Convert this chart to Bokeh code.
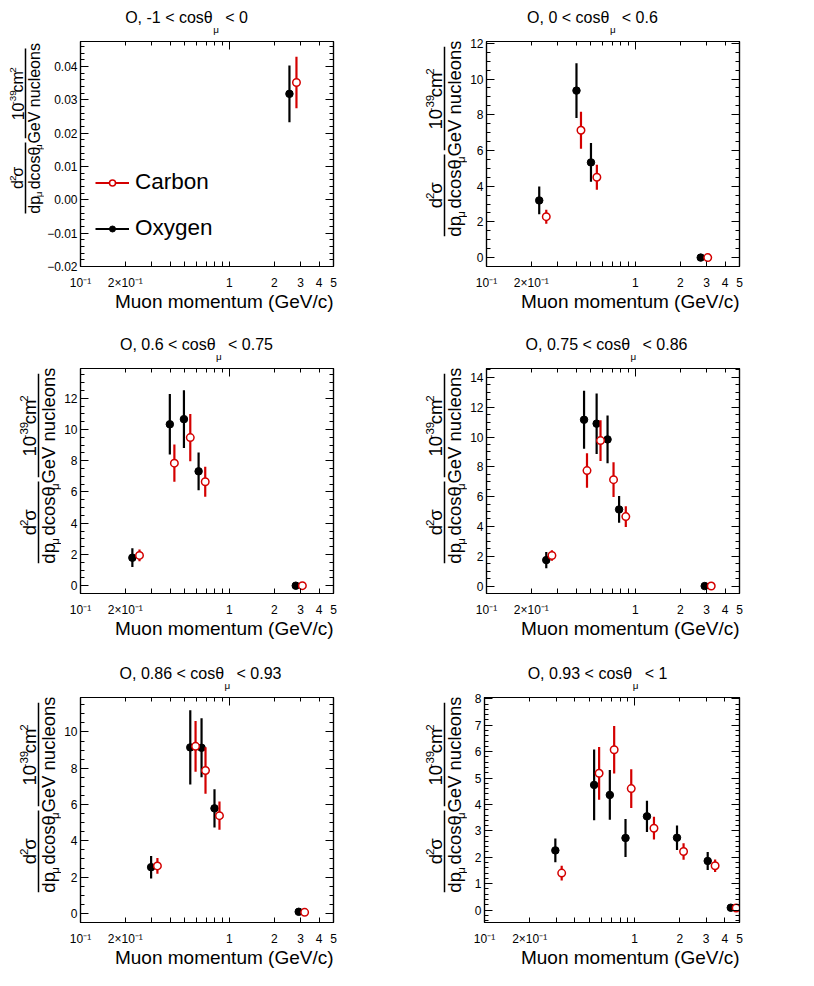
import math
from bokeh.plotting import figure
from bokeh.layouts import row, column
from bokeh.models import (Range1d, FixedTicker, SingleIntervalTicker, CustomJSTickFormatter,
                          LogAxis, LinearAxis, Legend, LegendItem, ColumnDataSource)
from bokeh.core.properties import value
from bokeh.embed import file_html
from bokeh.resources import INLINE

RED = "#d40000"
FONT = "Liberation Sans"
NB = "\u00a0"
EN = "\u2002"

# ---------------- data ----------------
X_TICKS = [0.1, 0.2, 1, 2, 3, 4, 5]
X_TICK_LABELS = ["10\u207b\u00b9", "2\u00d710\u207b\u00b9", "1", "2", "3", "4", "5"]
X_MINOR = [0.3, 0.4, 0.5, 0.6, 0.7, 0.8, 0.9]
X_TOP_MAJOR = [0.1, 1]
X_TOP_MINOR = [0.2, 0.3, 0.4, 0.5, 0.6, 0.7, 0.8, 0.9, 2, 3, 4, 5]

COS_LOW = ["-1", "0", "0.6", "0.75", "0.86", "0.93"]
COS_HIGH = ["0", "0.6", "0.75", "0.86", "0.93", "1"]

Y_MIN = [-0.02, -0.5, -0.5, -0.5, -0.5, -0.47]
Y_MAX = [0.0475, 12.1, 13.9, 14.6, 11.9, 8.05]
Y_STEP = [0.01, 2, 2, 2, 2, 1]
Y_NMINOR = [5, 4, 4, 4, 4, 5]
Y_DIGITS = [2, 0, 0, 0, 0, 0]

# panel 1: -1 < cos < 0
oxy_p_1 = [2.53]
oxy_v_1 = [0.0318]
oxy_e_1 = [0.0085]
car_p_1 = [2.82]
car_v_1 = [0.0352]
car_e_1 = [0.0077]

# panel 2: 0 < cos < 0.6
oxy_p_2 = [0.226, 0.402, 0.503, 2.745]
oxy_v_2 = [3.20, 9.35, 5.33, 0.0]
oxy_e_2 = [0.78, 1.53, 1.08, 0.02]
car_p_2 = [0.252, 0.431, 0.551, 3.06]
car_v_2 = [2.29, 7.13, 4.50, 0.0]
car_e_2 = [0.39, 1.03, 0.70, 0.02]

# panel 3: 0.6 < cos < 0.75
oxy_p_3 = [0.223, 0.398, 0.495, 0.621, 2.79]
oxy_v_3 = [1.79, 10.33, 10.66, 7.32, 0.0]
oxy_e_3 = [0.60, 1.94, 1.85, 1.21, 0.02]
car_p_3 = [0.249, 0.427, 0.546, 0.688, 3.09]
car_v_3 = [1.94, 7.84, 9.48, 6.65, 0.0]
car_e_3 = [0.38, 1.19, 1.51, 0.96, 0.02]

# panel 4: 0.75 < cos < 0.86
oxy_p_4 = [0.252, 0.452, 0.549, 0.650, 0.777, 2.92]
oxy_v_4 = [1.74, 11.16, 10.90, 9.84, 5.14, 0.0]
oxy_e_4 = [0.55, 1.94, 2.03, 1.60, 0.90, 0.02]
car_p_4 = [0.275, 0.473, 0.583, 0.713, 0.862, 3.23]
car_v_4 = [2.05, 7.75, 9.76, 7.14, 4.66, 0.0]
car_e_4 = [0.35, 1.16, 1.37, 1.16, 0.70, 0.02]

# panel 5: 0.86 < cos < 0.93
oxy_p_5 = [0.298, 0.546, 0.650, 0.794, 2.92]
oxy_v_5 = [2.55, 9.15, 9.13, 5.79, 0.09]
oxy_e_5 = [0.62, 2.05, 1.62, 1.05, 0.03]
car_p_5 = [0.3285, 0.5925, 0.691, 0.8575, 3.20]
car_v_5 = [2.62, 9.21, 7.88, 5.39, 0.06]
car_e_5 = [0.44, 1.40, 1.28, 0.78, 0.02]

# panel 6: 0.93 < cos < 1
oxy_p_6 = [0.2965, 0.5375, 0.684, 0.870, 1.209, 1.917, 3.07, 4.375]
oxy_v_6 = [2.26, 4.74, 4.36, 2.73, 3.55, 2.74, 1.86, 0.09]
oxy_e_6 = [0.45, 1.34, 0.94, 0.72, 0.59, 0.46, 0.34, 0.03]
car_p_6 = [0.3268, 0.5803, 0.731, 0.950, 1.346, 2.12, 3.44, 4.75]
car_v_6 = [1.40, 5.18, 6.07, 4.60, 3.10, 2.22, 1.68, 0.08]
car_e_6 = [0.28, 1.00, 0.90, 0.73, 0.43, 0.31, 0.24, 0.02]

OXY = [(oxy_p_1, oxy_v_1, oxy_e_1), (oxy_p_2, oxy_v_2, oxy_e_2), (oxy_p_3, oxy_v_3, oxy_e_3),
       (oxy_p_4, oxy_v_4, oxy_e_4), (oxy_p_5, oxy_v_5, oxy_e_5), (oxy_p_6, oxy_v_6, oxy_e_6)]
CAR = [(car_p_1, car_v_1, car_e_1), (car_p_2, car_v_2, car_e_2), (car_p_3, car_v_3, car_e_3),
       (car_p_4, car_v_4, car_e_4), (car_p_5, car_v_5, car_e_5), (car_p_6, car_v_6, car_e_6)]

# ---------------- layout constants ----------------
CELL_W = 406
FRAME_L = 78          # frame left inside a cell
FW, FH = 255, 225
MAIN_TOP, MAIN_BOT = 6, 26
TITLE_H = 35
CELL_H = [327, 329, 320]
TITLE_CX = [108, 108, 118, 122, 122, 113]
MID = 0.3465          # distance from the text box middle to the alphabetic baseline (em)

# approximate Helvetica/Liberation Sans advance widths (1/1000 em)
WID = {" ": 278, NB: 278, EN: 500, ",": 278, "-": 333, ".": 278, "<": 584, "(": 333,
       ")": 333, "/": 278, "O": 778, "G": 778, "V": 667, "M": 833, "c": 500, "o": 556,
       "s": 500, "d": 556, "p": 556, "e": 556, "n": 556, "u": 556, "l": 222, "m": 833,
       "t": 278, "\u03b8": 556, "\u03bc": 576, "\u03c3": 600}
SUB_SCALE = 0.62


def tw(s, fs):
    return sum(WID.get(ch, 556) for ch in s) / 1000.0 * fs


def seg_size(kind, fs):
    return fs if kind == "n" else fs * SUB_SCALE


def seg_adv(text, kind, fs):
    return tw(text, seg_size(kind, fs)) + (0.08 * fs if kind == "sub" else 0.0)


def measure(segs, fs):
    return sum(seg_adv(t, k, fs) for t, k in segs)


def put(p, x, y, text, f, angle=0.0, align="left"):
    p.text(x=[x], y=[y], text=[text], angle=angle, text_font=value(FONT),
           text_font_size=value("%.1fpx" % f), text_align=value(align),
           text_baseline=value("middle"), text_color="black")


def vrich(p, segs, x, y, fs, sub_drop=0.45, sup_rise=0.42):
    """Vertical run (reads bottom to top); (x, y) = run centre on the main baseline.
    Every piece is anchored at its own centre."""
    along = -measure(segs, fs) / 2.0
    for text, kind in segs:
        f = seg_size(kind, fs)
        w = tw(text, f)
        shift = sup_rise * fs if kind == "sup" else (-sub_drop * fs if kind == "sub" else 0.0)
        shift += MID * f
        put(p, x - shift, y + along + w / 2.0, text, f, angle=math.pi / 2, align="center")
        along += seg_adv(text, kind, fs)


def aux(w, h):
    f = figure(width=w, height=h, x_range=Range1d(0, w), y_range=Range1d(0, h),
               x_axis_location=None, y_axis_location=None, output_backend="svg",
               toolbar_location=None, min_border=0)
    f.grid.visible = False
    f.outline_line_color = None
    f.background_fill_color = "white"
    f.border_fill_color = "white"
    return f


def vbar(p, x, y0, y1, w=1.5):
    p.quad(left=[x - w / 2], right=[x + w / 2], bottom=[y0], top=[y1],
           fill_color="black", line_color=None)


def y_title_fig(i, width, height):
    p = aux(width, height)
    fs = 16 if i == 0 else 18.5
    bar_rel = -53 if i == 0 else -40
    top_off = 2 if i == 0 else 0
    drop = 0.15 if i == 0 else 0.2
    bx = FRAME_L + bar_rel
    ftop = height - MAIN_TOP
    up_num = [("10", "n"), ("-39", "sup"), ("cm", "n"), ("2", "sup")]
    up_den = [("GeV" + NB + "nucleons", "n")]
    lo_num = [("d", "n"), ("2", "sup"), ("\u03c3", "n")]
    lo_den = [("dp", "n"), ("\u03bc", "sub"), (NB + "dcos\u03b8", "n"), ("\u03bc", "sub")]
    ytop = ftop - top_off
    L1 = max(measure(up_num, fs), measure(up_den, fs)) + 2
    vbar(p, bx, ytop - L1, ytop)
    c1 = ytop - L1 / 2
    vrich(p, up_num, bx - 0.15 * fs, c1, fs)
    vrich(p, up_den, bx + 0.9 * fs, c1, fs)
    ytop2 = ytop - L1 - 5
    L2 = max(measure(lo_num, fs), measure(lo_den, fs)) + 2
    vbar(p, bx, ytop2 - L2, ytop2)
    c2 = ytop2 - L2 / 2
    vrich(p, lo_num, bx - 0.15 * fs, c2, fs)
    vrich(p, lo_den, bx + 0.9 * fs, c2, fs, sub_drop=drop)
    return p


def style_axis(ax, major_in=8, minor_in=4):
    ax.axis_line_color = "black"
    ax.axis_line_width = 1.2
    ax.major_tick_line_color = "black"
    ax.minor_tick_line_color = "black"
    ax.major_tick_in = major_in
    ax.major_tick_out = 0
    ax.minor_tick_in = minor_in
    ax.minor_tick_out = 0
    ax.major_label_text_font = FONT
    ax.major_label_text_font_size = "12px"
    ax.major_label_text_color = "black"


def main_fig(i, bl):
    br = CELL_W - FRAME_L - FW
    w = bl + FW + br
    h = MAIN_TOP + FH + MAIN_BOT
    p = figure(width=w, height=h, x_axis_type="log", x_range=Range1d(0.1, 5),
               y_range=Range1d(Y_MIN[i], Y_MAX[i]), output_backend="svg",
               toolbar_location=None, min_border_left=bl, min_border_right=br,
               min_border_top=MAIN_TOP, min_border_bottom=MAIN_BOT)
    p.grid.visible = False
    p.outline_line_color = "black"
    p.outline_line_width = 1.2
    p.background_fill_color = "white"
    p.border_fill_color = "white"

    xa = p.xaxis[0]
    xa.ticker = FixedTicker(ticks=X_TICKS, minor_ticks=X_MINOR)
    xa.major_label_overrides = {t: lab for t, lab in zip(X_TICKS, X_TICK_LABELS)}
    style_axis(xa, major_in=5, minor_in=5)
    xa.major_label_standoff = 9

    ya = p.yaxis[0]
    ya.ticker = SingleIntervalTicker(interval=Y_STEP[i], num_minor_ticks=Y_NMINOR[i])
    ya.formatter = CustomJSTickFormatter(args=dict(d=Y_DIGITS[i]), code="""
        const v = Math.abs(tick) < 1e-9 ? 0 : tick;
        return v.toFixed(d).replace('-', '\u2212');
    """)
    style_axis(ya)
    ya.major_label_standoff = 3

    blank = "return '';"
    top = LogAxis(ticker=FixedTicker(ticks=X_TOP_MAJOR, minor_ticks=X_TOP_MINOR),
                  formatter=CustomJSTickFormatter(code=blank))
    style_axis(top, major_in=8, minor_in=4)
    top.major_label_standoff = 0
    top.major_label_text_font_size = "0px"
    p.add_layout(top, "above")
    right = LinearAxis(ticker=SingleIntervalTicker(interval=Y_STEP[i], num_minor_ticks=Y_NMINOR[i]),
                       formatter=CustomJSTickFormatter(code=blank))
    style_axis(right)
    right.major_label_standoff = 0
    right.major_label_text_font_size = "0px"
    p.add_layout(right, "right")

    renderers = {}
    for name, (pp, vv, ee) in (("Oxygen", OXY[i]), ("Carbon", CAR[i])):
        src = ColumnDataSource(dict(p=pp, v=vv, lo=[a - b for a, b in zip(vv, ee)],
                                    hi=[a + b for a, b in zip(vv, ee)]))
        color = "black" if name == "Oxygen" else RED
        seg = p.segment(x0="p", y0="lo", x1="p", y1="hi", source=src,
                        line_color=color, line_width=2.2)
        if name == "Oxygen":
            mk = p.scatter("p", "v", source=src, size=7.5, marker="circle",
                           fill_color="black", line_color="black", line_width=1)
        else:
            mk = p.scatter("p", "v", source=src, size=7.5, marker="circle",
                           fill_color="white", line_color=RED, line_width=1.5)
        renderers[name] = [seg, mk]

    if i == 0:
        leg = Legend(items=[LegendItem(label="Carbon", renderers=renderers["Carbon"]),
                            LegendItem(label="Oxygen", renderers=renderers["Oxygen"])],
                     location=(15, 25), orientation="vertical", glyph_width=34,
                     glyph_height=15, label_height=15, label_standoff=6, spacing=20,
                     padding=0, margin=0, border_line_color=None,
                     background_fill_alpha=0.0, label_text_font=FONT,
                     label_text_font_size="22.5px", label_text_color="black")
        p.add_layout(leg)
    return p


def cell(i):
    r = i // 2
    bl = 34 if i == 0 else 17
    yw = FRAME_L - bl
    h_main = MAIN_TOP + FH + MAIN_BOT

    # panel title: one left-anchored string, the subscript mu set separately
    t = aux(CELL_W, TITLE_H)
    ts = 16
    head = "O, " + COS_LOW[i] + " < cos\u03b8"
    tail = EN + NB + "< " + COS_HIGH[i]
    total = tw(head, ts) + tw(tail, ts)
    x0 = FRAME_L + TITLE_CX[i] - total / 2.0
    base = TITLE_H - 22.5
    put(t, x0, base + MID * ts, head + tail, ts)
    mu_f = ts * SUB_SCALE
    put(t, x0 + tw(head, ts) + 0.5, base - 0.6 * ts + MID * mu_f, "\u03bc", mu_f)

    yt = y_title_fig(i, yw, h_main)
    m = main_fig(i, bl)

    # x title (baseline 42 px below the frame), ending at the frame's right edge
    xh = CELL_H[r] - TITLE_H - h_main
    xt = aux(CELL_W, xh)
    xs = 19
    x_label = "Muon momentum (GeV/c)"
    put(xt, FRAME_L + FW - tw(x_label, xs), xh - (42 - MAIN_BOT) + MID * xs, x_label, xs)
    return column(t, row(yt, m), xt)


cells = [cell(i) for i in range(6)]
page = column(row(cells[0], cells[1]), row(cells[2], cells[3]), row(cells[4], cells[5]))

with open("out.html", "w", encoding="utf-8") as f:
    f.write(file_html(page, INLINE))
